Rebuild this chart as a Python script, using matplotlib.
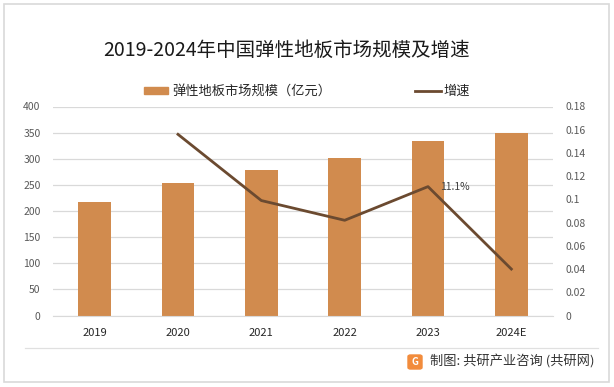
import matplotlib
matplotlib.use('Agg')
import matplotlib.pyplot as plt
from matplotlib.patches import Rectangle, FancyBboxPatch
from matplotlib.lines import Line2D
from matplotlib.ticker import FuncFormatter

plt.rcParams['font.family'] = ['Noto Sans CJK SC', 'DejaVu Sans']

anos = ['2019', '2020', '2021', '2022', '2023', '2024E']
mercado = [218, 253, 278, 301, 334, 349]
crescimento = [None, 0.156, 0.099, 0.082, 0.111, 0.040]

cor_barra = '#D18B4E'
cor_linha = '#6B4A30'
cinza = '#595959'

W, H = 614, 387
fig = plt.figure(figsize=(W / 100, H / 100), dpi=100)

# moldura e separador do rodape
fig.add_artist(Rectangle((4 / W, 1 - 382 / H), 605 / W, 378 / H, transform=fig.transFigure,
                         fill=False, ec='#d9d9d9', lw=1.2))
fig.add_artist(Line2D([25 / W, 598 / W], [1 - 348 / H] * 2, transform=fig.transFigure,
                      color='#e0e0e0', lw=0.9))

ax = fig.add_axes([53 / W, 1 - 315.5 / H, 500 / W, 209 / H])
x = list(range(len(anos)))
ax.bar(x, mercado, width=0.39, color=cor_barra, zorder=2)
ax.set_xlim(-0.5, len(anos) - 0.5)
ax.set_ylim(0, 400)
ax.set_yticks(range(0, 401, 50))
ax.set_xticks(x)
ax.set_xticklabels(anos)
ax.grid(axis='y', color='#d9d9d9', lw=0.9, zorder=0)
for s in ax.spines.values():
    s.set_visible(False)
ax.spines['bottom'].set_visible(True)
ax.spines['bottom'].set_color('#d9d9d9')
ax.tick_params(axis='y', length=0, pad=9, labelsize=7.5, labelcolor=cinza)
ax.tick_params(axis='x', length=0, pad=9, labelsize=8, labelcolor='#262626')

ax2 = ax.twinx()
xs = [i for i, v in enumerate(crescimento) if v is not None]
ys = [v for v in crescimento if v is not None]
ax2.plot(xs, ys, color=cor_linha, lw=2, zorder=3)
ax2.set_ylim(0, 0.18)
ax2.set_yticks([i * 0.02 for i in range(10)])
ax2.yaxis.set_major_formatter(FuncFormatter(lambda v, p: '{:g}'.format(round(v, 2))))
for s in ax2.spines.values():
    s.set_visible(False)
ax2.tick_params(axis='y', length=0, pad=9, labelsize=7.5, labelcolor=cinza)
ax2.annotate('11.1%', (4, 0.111), xytext=(9, 0), textcoords='offset points',
             fontsize=7.5, color='#404040', va='center', ha='left')

# titulo
fig.text(287 / W, 1 - 50 / H, '2019-2024年中国弹性地板市场规模及增速', ha='center', va='center',
         fontsize=14, color='#1a1a1a')

# legenda
fig.add_artist(Rectangle((144 / W, 1 - 94 / H), 24 / W, 7 / H, transform=fig.transFigure,
                         color=cor_barra))
fig.text(172 / W, 1 - 91 / H, '弹性地板市场规模（亿元）', ha='left', va='center',
         fontsize=9.5, color='#262626')
fig.add_artist(Line2D([415 / W, 441 / W], [1 - 91 / H] * 2, transform=fig.transFigure,
                      color=cor_linha, lw=2))
fig.text(443 / W, 1 - 91 / H, '增速', ha='left', va='center', fontsize=9.5, color='#262626')

# rodape
fig.add_artist(FancyBboxPatch((408 / W, 1 - 369 / H), 14 / W, 14 / H, transform=fig.transFigure,
                              boxstyle='round,pad=0,rounding_size=0.004', color='#F28C3C'))
fig.text(415 / W, 1 - 362 / H, 'G', ha='center', va='center', fontsize=7, color='white',
         fontweight='bold')
fig.text(430 / W, 1 - 362 / H, '制图: 共研产业咨询 (共研网)', ha='left', va='center',
         fontsize=9.5, color='#333333')

plt.savefig('out.png', dpi=100)
